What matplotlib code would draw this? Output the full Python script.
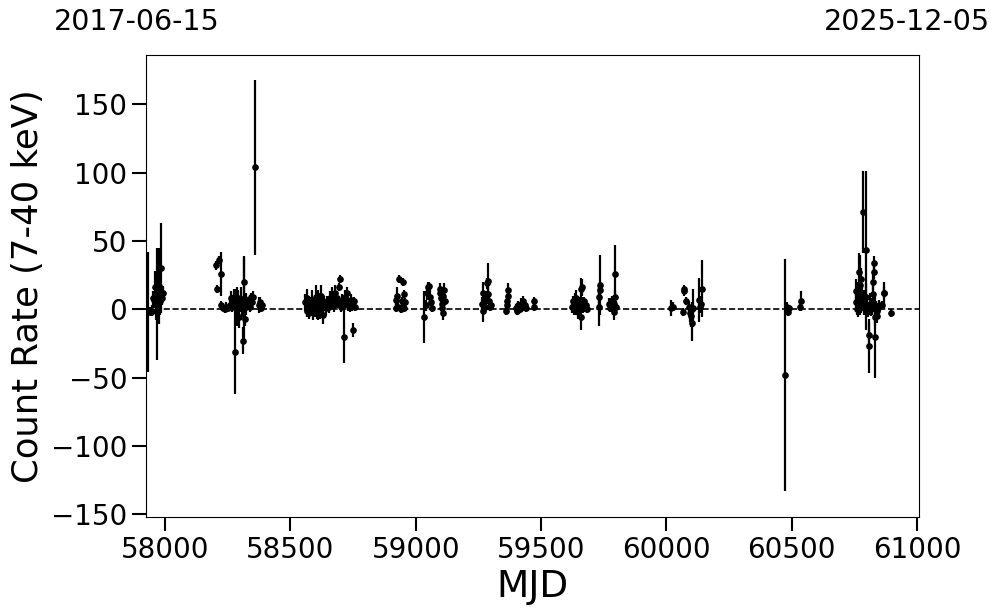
import numpy as np
import matplotlib
matplotlib.use("Agg")
import matplotlib.pyplot as plt

# light curve points: MJD, count rate (7-40 keV), 1-sigma error
mjd = [
    57928, 57933, 57938, 57942, 57947, 57952, 57955, 57958, 57962, 57966, 57970, 57974, 57978, 57981, 57984, 57987, 57990,
    58205, 58208, 58215, 58222, 58225, 58230, 58238, 58245, 58252, 58258, 58262, 58268, 58275, 58279, 58284, 58287, 58292,
    58296, 58300, 58304, 58308, 58311, 58313, 58315, 58318, 58321, 58324, 58328, 58333, 58338, 58342, 58346, 58351, 58359,
    58375, 58379, 58383, 58386,
    58560, 58565, 58568, 58572, 58575, 58580, 58584, 58588, 58592, 58596, 58600, 58604, 58607, 58610, 58614, 58618, 58622,
    58626, 58630, 58634, 58638, 58643, 58648, 58653, 58658, 58663, 58668, 58672, 58676, 58680, 58685, 58690, 58695, 58698,
    58703, 58707, 58712, 58715, 58719, 58723, 58727, 58731, 58736, 58740, 58745, 58749, 58753, 58757,
    58920, 58922, 58925, 58928, 58935, 58940, 58944, 58946, 58950, 58953, 58955, 58958,
    59035, 59040, 59045, 59050, 59053, 59058, 59062, 59066, 59095, 59098, 59100, 59103, 59105, 59107, 59110, 59112, 59115,
    59265, 59268, 59270, 59273, 59278, 59282, 59285, 59288, 59290, 59293, 59296, 59300, 59360, 59363, 59365, 59367, 59369,
    59400, 59405, 59410, 59415, 59420, 59425, 59430, 59435, 59440, 59470, 59473,
    59625, 59628, 59632, 59635, 59638, 59642, 59645, 59648, 59652, 59655, 59658, 59660, 59662, 59665, 59668, 59672, 59676,
    59680, 59684, 59730, 59732, 59734, 59736, 59770, 59775, 59780, 59785, 59790, 59792, 59794, 59796, 59800,
    60020, 60025, 60065, 60070, 60072, 60078, 60090, 60095, 60098, 60101, 60104, 60108, 60130, 60135, 60140, 60143,
    60472, 60480, 60483, 60486, 60490, 60535, 60538,
    60755, 60758, 60760, 60763, 60766, 60769, 60772, 60775, 60778, 60781, 60784, 60787, 60790, 60795, 60798, 60801, 60805,
    60808, 60810, 60813, 60816, 60820, 60823, 60825, 60827, 60829, 60831, 60833, 60836, 60839, 60842, 60845, 60850, 60860,
    60867, 60870, 60897,
]
rate = [
    -1, -2, -1, -2, -1, 8, 7, 16, 10, 4, 12, 17, 6, 14, 30, 8, 12,
    32, 15, 36, 26, 3, 1, 0, 2, 1, 3, 8, 2, 9, -31, 5, 2, 8,
    -6, 3, 7, 1, -23, 8, 20, -7, 2, 7, 4, 6, 2, 9, 5, 9, 104,
    3, 5, 1, 3,
    5, -1, 8, 2, -3, 3, 0, 6, -2, 4, 1, 9, -2, 3, 6, 0, 10,
    2, -4, 5, 3, 1, 6, 2, 8, 4, 11, 6, 3, 12, 8, 5, 16, 22,
    2, 6, -20, 3, 9, 5, 12, 4, 2, 7, 3, -15, 6, 2,
    1, 7, 10, 2, 22, 0, 6, 2, 20, 11, 1, 5,
    -6, 3, 12, 16, 17, 9, 5, 1, 15, 12, 8, 4, 1, -3, 10, 14, 6,
    4, 12, -1, 6, 2, 8, 19, 21, 11, 6, 2, 3, -1, 3, 6, 10, 14,
    1, -1, 3, 0, 4, 2, 6, 3, 1, 6, 2,
    2, 6, 0, 4, 8, 1, 3, -2, 5, 2, 15, -6, 16, 4, 1, 6, 2,
    3, 0, 2, 9, 14, 18, 4, 1, 3, 6, -2, 4, 9, 26, 2,
    1, 2, -2, 13, 15, 6, 2, -3, -5, 0, -10, 1, 7, 2, 4, 15,
    -48, 2, 0, -2, 1, 2, 6,
    13, 5, 0, 8, 2, 27, 18, 22, 3, 11, 71, 6, 1, 43, 9, 2, -1,
    -19, -27, 4, 0, 2, 11, 20, 34, 27, -20, -6, 2, -1, -5, 1, 3, 3,
    12, 12, -3,
]
err = [
    3, 44, 3, 3, 4, 5, 6, 12, 18, 41, 8, 28, 10, 6, 33, 5, 5,
    3, 3, 3, 16, 3, 2, 3, 3, 2, 4, 5, 4, 6, 31, 10, 14, 6,
    8, 5, 9, 7, 10, 31, 18, 5, 6, 5, 4, 3, 4, 3, 3, 4, 64,
    6, 4, 3, 3,
    6, 5, 7, 5, 4, 6, 4, 8, 6, 5, 7, 9, 5, 11, 6, 7, 8,
    6, 7, 5, 4, 5, 4, 5, 5, 4, 5, 6, 5, 6, 5, 4, 3, 3,
    4, 5, 19, 5, 5, 4, 4, 5, 4, 4, 4, 5, 3, 3,
    3, 4, 6, 3, 3, 3, 3, 3, 3, 3, 3, 3,
    19, 4, 5, 4, 3, 5, 4, 3, 4, 5, 4, 6, 4, 5, 4, 5, 3,
    5, 8, 8, 4, 3, 5, 4, 13, 5, 4, 3, 3, 3, 4, 4, 5, 5,
    3, 3, 3, 3, 4, 3, 4, 3, 3, 3, 3,
    5, 4, 4, 8, 6, 5, 4, 5, 4, 3, 8, 9, 6, 5, 4, 3, 4,
    3, 3, 14, 8, 6, 22, 4, 3, 5, 4, 6, 5, 5, 21, 4,
    6, 3, 3, 3, 3, 3, 4, 6, 8, 5, 13, 14, 16, 5, 6, 21,
    85, 3, 3, 3, 2, 3, 7,
    9, 6, 4, 12, 8, 14, 22, 8, 6, 7, 30, 8, 5, 58, 10, 6, 5,
    10, 20, 8, 5, 6, 8, 6, 5, 5, 30, 6, 4, 4, 5, 3, 4, 3,
    8, 4, 3,
]

start_label = "2017-06-15"
end_label = "2025-12-05"

fig = plt.figure(figsize=(9.97, 6.13), dpi=100)
ax = fig.add_axes([146 / 997, 1 - 517 / 613, (919 - 146) / 997, (517 - 55) / 613])

ax.errorbar(mjd, rate, yerr=err, fmt='o', color='black', markersize=3.8,
            elinewidth=1.6, capsize=0, zorder=3)
ax.axhline(0, color='black', linestyle='--', linewidth=1.2, zorder=2)

ax.set_xlim(57924, 61008)
ax.set_ylim(-152, 186)
ax.set_xticks([58000, 58500, 59000, 59500, 60000, 60500, 61000])
ax.set_yticks([-150, -100, -50, 0, 50, 100, 150])
ax.tick_params(axis='both', which='major', labelsize=20, length=10, width=1.5)

ax.set_xlabel("MJD", fontsize=27)
ax.set_ylabel("Count Rate (7-40 keV)", fontsize=25.5)

fig.text(137 / 997, 1 - 22 / 613, start_label, fontsize=20.5, ha='center', va='center',
         family=['Liberation Sans Narrow', 'DejaVu Sans'])
fig.text(907 / 997, 1 - 22 / 613, end_label, fontsize=20.5, ha='center', va='center',
         family=['Liberation Sans Narrow', 'DejaVu Sans'])

fig.savefig("out.png", dpi=100)
